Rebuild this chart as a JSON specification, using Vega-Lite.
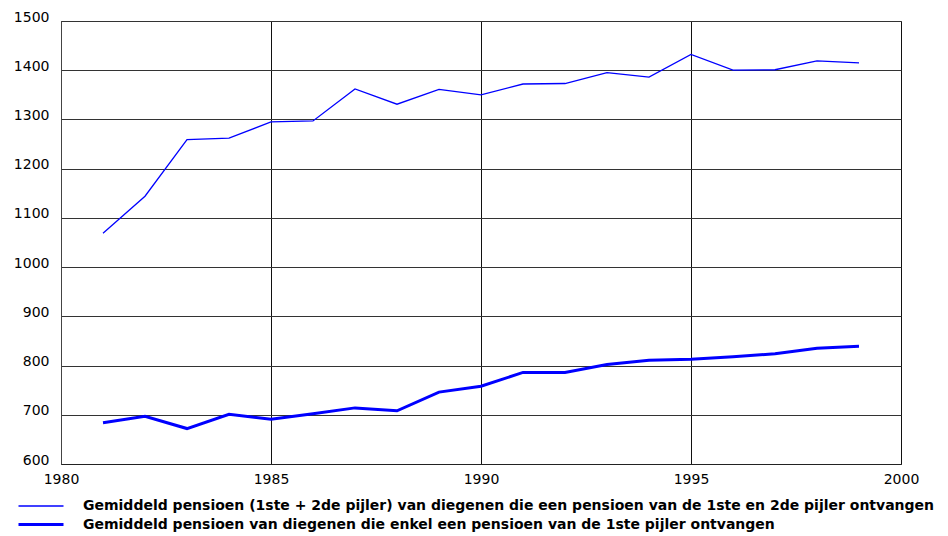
{
  "$schema": "https://vega.github.io/schema/vega-lite/v6.json",
  "width": 840,
  "height": 443,
  "autosize": {"type": "none"},
  "padding": {"left": 61, "top": 21, "right": 47, "bottom": 72},
  "background": "white",
  "config": {
    "font": "DejaVu Sans",
    "view": {"stroke": "#666666", "strokeWidth": 1}
  },
  "data": {
    "values": [
      {"jaar": 1981, "reeks": "A", "waarde": 1069},
      {"jaar": 1982, "reeks": "A", "waarde": 1144},
      {"jaar": 1983, "reeks": "A", "waarde": 1259},
      {"jaar": 1984, "reeks": "A", "waarde": 1262},
      {"jaar": 1985, "reeks": "A", "waarde": 1295},
      {"jaar": 1986, "reeks": "A", "waarde": 1297},
      {"jaar": 1987, "reeks": "A", "waarde": 1362},
      {"jaar": 1988, "reeks": "A", "waarde": 1331},
      {"jaar": 1989, "reeks": "A", "waarde": 1361},
      {"jaar": 1990, "reeks": "A", "waarde": 1350},
      {"jaar": 1991, "reeks": "A", "waarde": 1372},
      {"jaar": 1992, "reeks": "A", "waarde": 1373},
      {"jaar": 1993, "reeks": "A", "waarde": 1395},
      {"jaar": 1994, "reeks": "A", "waarde": 1386},
      {"jaar": 1995, "reeks": "A", "waarde": 1432},
      {"jaar": 1996, "reeks": "A", "waarde": 1400},
      {"jaar": 1997, "reeks": "A", "waarde": 1401},
      {"jaar": 1998, "reeks": "A", "waarde": 1419},
      {"jaar": 1999, "reeks": "A", "waarde": 1415},
      {"jaar": 1981, "reeks": "B", "waarde": 684},
      {"jaar": 1982, "reeks": "B", "waarde": 697},
      {"jaar": 1983, "reeks": "B", "waarde": 672},
      {"jaar": 1984, "reeks": "B", "waarde": 701},
      {"jaar": 1985, "reeks": "B", "waarde": 691},
      {"jaar": 1986, "reeks": "B", "waarde": 702},
      {"jaar": 1987, "reeks": "B", "waarde": 714},
      {"jaar": 1988, "reeks": "B", "waarde": 708},
      {"jaar": 1989, "reeks": "B", "waarde": 746},
      {"jaar": 1990, "reeks": "B", "waarde": 758},
      {"jaar": 1991, "reeks": "B", "waarde": 786},
      {"jaar": 1992, "reeks": "B", "waarde": 786},
      {"jaar": 1993, "reeks": "B", "waarde": 802},
      {"jaar": 1994, "reeks": "B", "waarde": 811},
      {"jaar": 1995, "reeks": "B", "waarde": 813},
      {"jaar": 1996, "reeks": "B", "waarde": 818},
      {"jaar": 1997, "reeks": "B", "waarde": 824},
      {"jaar": 1998, "reeks": "B", "waarde": 835},
      {"jaar": 1999, "reeks": "B", "waarde": 839}
    ]
  },
  "transform": [
    {"lookup": "reeks", "from": {"data": {"values": [
      {"reeks": "A", "label": "Gemiddeld pensioen (1ste + 2de pijler) van diegenen die een pensioen van de 1ste en 2de pijler ontvangen"},
      {"reeks": "B", "label": "Gemiddeld pensioen van diegenen die enkel een pensioen van de 1ste pijler ontvangen"}
    ]}, "key": "reeks", "fields": ["label"]}}
  ],
  "mark": {"type": "line", "clip": false},
  "encoding": {
    "x": {
      "field": "jaar", "type": "quantitative",
      "scale": {"domain": [1980, 2000], "nice": false, "zero": false},
      "axis": {
        "title": null, "values": [1980, 1985, 1990, 1995, 2000], "format": "d",
        "ticks": false, "domain": true, "domainColor": "#222222", "domainWidth": 1,
        "grid": true, "gridColor": "#111111", "gridWidth": 1, "gridOpacity": 1,
        "labelFontSize": 14, "labelColor": "#000000", "labelPadding": 8,
        "labelFlush": false, "labelFont": "DejaVu Sans"
      }
    },
    "y": {
      "field": "waarde", "type": "quantitative",
      "scale": {"domain": [600, 1500], "nice": false, "zero": false},
      "axis": {
        "title": null, "values": [600, 700, 800, 900, 1000, 1100, 1200, 1300, 1400, 1500],
        "format": "d", "ticks": false, "domain": true, "domainColor": "#444444",
        "grid": true, "gridColor": "#333333", "gridWidth": 1, "gridOpacity": 1,
        "labelFontSize": 14, "labelColor": "#000000", "labelPadding": 12,
        "labelBaseline": "alphabetic", "labelFont": "DejaVu Sans"
      }
    },
    "color": {
      "field": "label", "type": "nominal",
      "scale": {"range": ["#0000ff", "#0000ff"]},
      "legend": {
        "title": null, "orient": "none", "legendX": -31.5, "legendY": 474,
        "symbolType": "M-2.25,0L2.25,0", "symbolSize": 400,
        "symbolFillColor": "transparent", "symbolStrokeColor": "#0000ff",
        "labelFontSize": 14, "labelFontWeight": "bold", "labelColor": "#000000",
        "labelFont": "DejaVu Sans",
        "labelLimit": 2000, "labelOffset": 30.5, "rowPadding": 0, "padding": 0
      }
    },
    "strokeWidth": {
      "field": "label", "type": "nominal",
      "scale": {"range": [1.3, 3]},
      "legend": {
        "title": null, "orient": "none", "legendX": -31.5, "legendY": 474,
        "symbolType": "M-2.25,0L2.25,0", "symbolSize": 400,
        "symbolFillColor": "transparent", "symbolStrokeColor": "#0000ff",
        "labelFontSize": 14, "labelFontWeight": "bold", "labelColor": "#000000",
        "labelFont": "DejaVu Sans",
        "labelLimit": 2000, "labelOffset": 30.5, "rowPadding": 0, "padding": 0
      }
    }
  }
}
